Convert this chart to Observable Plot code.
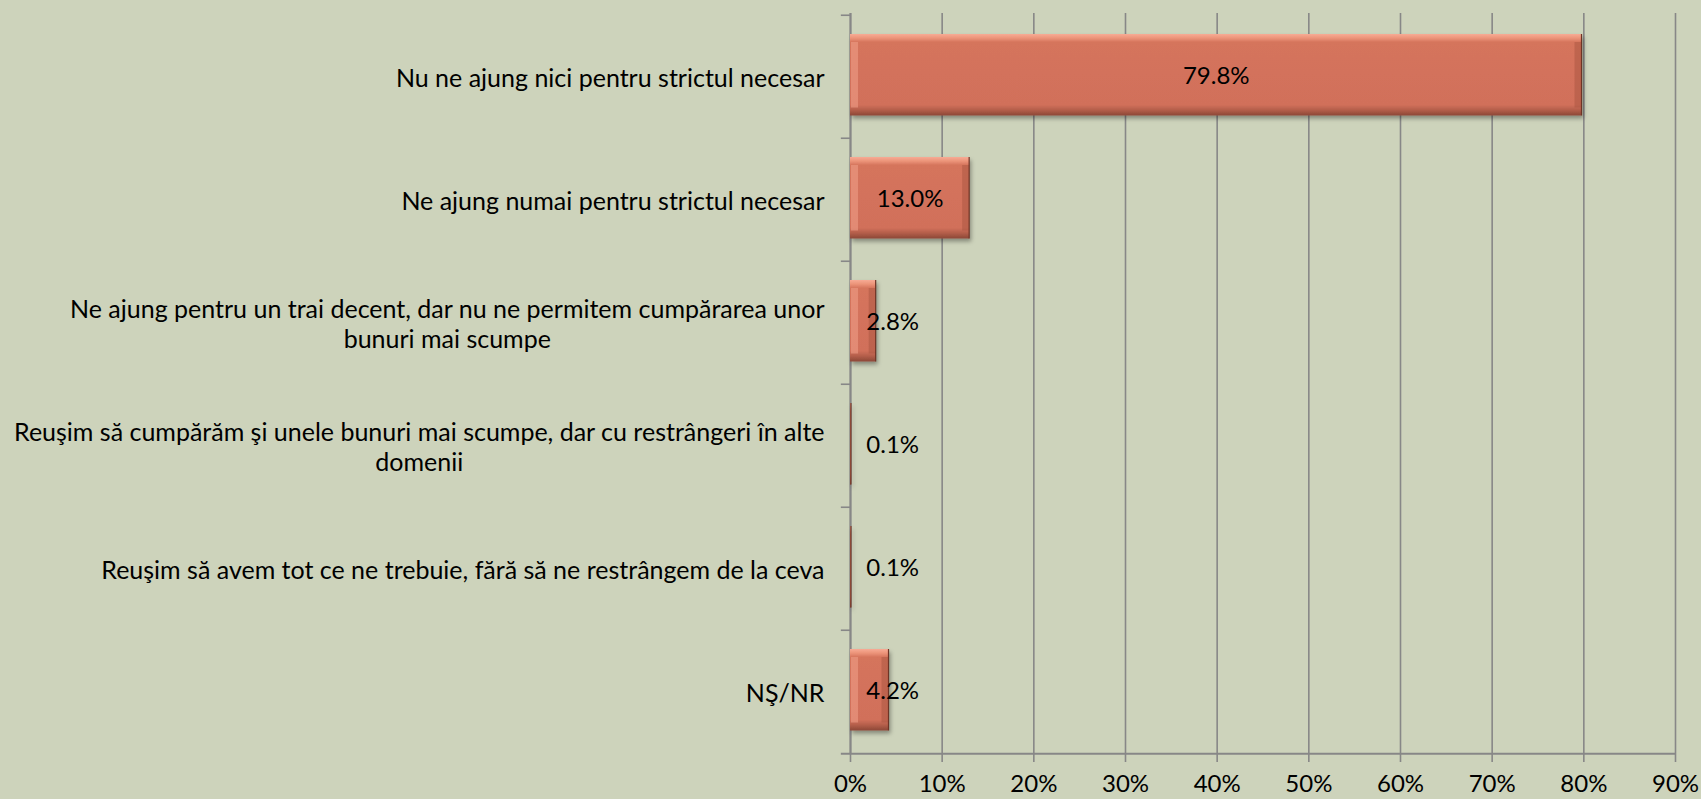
<!DOCTYPE html>
<html>
<head>
<meta charset="utf-8">
<script src="https://cdn.jsdelivr.net/npm/d3@7"></script>
<script src="https://cdn.jsdelivr.net/npm/@observablehq/plot@0.6"></script>
<style>
  html, body { margin: 0; padding: 0; background: #CDD3BB; }
  #defs { position: absolute; width: 0; height: 0; overflow: hidden; }
</style>
</head>
<body>
<svg id="defs" width="0" height="0">
  <defs>
    <linearGradient id="barGrad" x1="0" y1="0" x2="0" y2="1">
      <stop offset="0" stop-color="#f7ab95"/>
      <stop offset="0.05" stop-color="#ec9479"/>
      <stop offset="0.10" stop-color="#d5745c"/>
      <stop offset="0.87" stop-color="#d1705a"/>
      <stop offset="0.93" stop-color="#b55f4b"/>
      <stop offset="1" stop-color="#8c4737"/>
    </linearGradient>
    <filter id="shadow" x="-10%" y="-20%" width="130%" height="150%">
      <feDropShadow dx="2" dy="3" stdDeviation="2" flood-color="#000" flood-opacity="0.35"/>
    </filter>
  </defs>
</svg>
<div id="chart"></div>
<script>
const categories = [
  "Nu ne ajung nici pentru strictul necesar",
  "Ne ajung numai pentru strictul necesar",
  "Ne ajung pentru un trai decent, dar nu ne permitem cumpărarea unor bunuri mai scumpe",
  "Reuşim să cumpărăm şi unele bunuri mai scumpe, dar cu restrângeri în alte domenii",
  "Reuşim să avem tot ce ne trebuie, fără să ne restrângem de la ceva",
  "NŞ/NR"
];
const categoryLabels = [
  "Nu ne ajung nici pentru strictul necesar",
  "Ne ajung numai pentru strictul necesar",
  "Ne ajung pentru un trai decent, dar nu ne permitem cumpărarea unor\nbunuri mai scumpe",
  "Reuşim să cumpărăm şi unele bunuri mai scumpe, dar cu restrângeri în alte\ndomenii",
  "Reuşim să avem tot ce ne trebuie, fără să ne restrângem de la ceva",
  "NŞ/NR"
];
const values = [79.8, 13.0, 2.8, 0.1, 0.1, 4.2];
const xTicks = [0, 10, 20, 30, 40, 50, 60, 70, 80, 90];

const data = categories.map((c, i) => ({category: c, value: values[i]}));
const labelOf = new Map(categories.map((c, i) => [c, categoryLabels[i]]));

const W = 1701, H = 799, MT = 13, MB = 45, ML = 850, MR = 26;
const step = (H - MT - MB) / categories.length;
const gridColor = "#878787";
const FS = 24;

const chart = Plot.plot({
  width: W,
  height: H,
  marginTop: MT,
  marginBottom: MB,
  marginLeft: ML,
  marginRight: MR,
  style: {background: "#CDD3BB", fontFamily: "Lato, sans-serif", fontSize: FS + "px", color: "#000"},
  x: {domain: [0, 90], ticks: xTicks},
  y: {domain: categories, padding: 0},
  marks: [
    Plot.gridX(xTicks, {stroke: gridColor, strokeOpacity: 1, strokeWidth: 1.6}),
    Plot.ruleX([0], {stroke: gridColor, strokeWidth: 2}),
    // category boundary ticks on the left axis
    Plot.ruleY(categories, {y: d => d, x1: -1, x2: 0, dy: -step / 2, stroke: gridColor, strokeWidth: 1.6}),
    // bottom axis line
    Plot.ruleY([categories[categories.length - 1]], {y: d => d, x1: -1, x2: 90, dy: step / 2, stroke: gridColor, strokeWidth: 2}),
    Plot.axisX(xTicks, {tickSize: 8, tickPadding: 12, fontSize: FS, stroke: gridColor, strokeWidth: 1.6, tickFormat: d => d + "%", label: null}),
    Plot.axisY({tickSize: 0, tickPadding: 26, fontSize: 25, lineHeight: 1.2, tickFormat: d => labelOf.get(d), label: null}),
    Plot.barX(data, {x: "value", y: "category", fill: "url(#barGrad)", insetTop: 19, insetBottom: 22.5}),
    Plot.tickX(data.filter(d => d.value >= 1), {x: 0, y: "category", dx: 4, stroke: "#f0a18a", strokeOpacity: 0.55, strokeWidth: 7, insetTop: 27, insetBottom: 30.5}),
    Plot.tickX(data.filter(d => d.value >= 1), {x: "value", y: "category", dx: -4, stroke: "#a5533f", strokeOpacity: 0.45, strokeWidth: 7, insetTop: 27, insetBottom: 30.5}),
    Plot.tickX(data, {x: "value", y: "category", dx: -0.5, stroke: "#6e3426", strokeWidth: 1.2, insetTop: 19, insetBottom: 22.5}),
    Plot.text(data, {x: d => Math.max(d.value / 2, 4.6), y: "category", dy: -1, text: d => d.value.toFixed(1) + "%", fontSize: FS, fill: "#000"})
  ]
});

document.getElementById("chart").appendChild(chart);

// drop shadow on bars
d3.select(chart).selectAll('g[aria-label="bar"]').attr("filter", "url(#shadow)");

// center the lines of multi-line category labels, keeping the block right-aligned
d3.select(chart).selectAll('g[aria-label="y-axis tick label"] text').each(function() {
  if (this.querySelectorAll("tspan").length < 2) return;
  const before = this.getBBox();
  const right = before.x + before.width;
  this.setAttribute("text-anchor", "middle");
  const after = this.getBBox();
  const shift = right - (after.x + after.width);
  const t = this.getAttribute("transform") || "";
  this.setAttribute("transform", t + ` translate(${shift},0)`);
});
</script>
</body>
</html>
